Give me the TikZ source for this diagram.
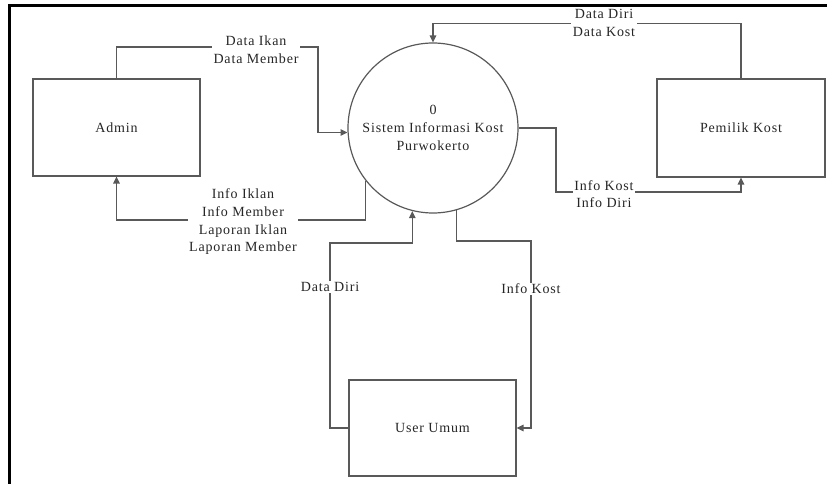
\documentclass[tikz,border=0pt]{standalone}
\usepackage{fontspec}
\setmainfont{Liberation Serif}[LetterSpace=6]
\usetikzlibrary{arrows.meta}
\begin{document}
\begin{tikzpicture}[x=1pt,y=-1pt,
  every node/.style={font=\fontsize{14}{17.7}\selectfont, text=black!85},
  entity/.style={draw=black!65, line width=1.2pt, rectangle, minimum width=167pt, minimum height=97pt, inner sep=0pt},
  process/.style={draw=black!65, line width=1.2pt, circle, minimum size=170pt, inner sep=0pt, align=center},
  flow/.style={draw=black!65, line width=1.3pt, -{Triangle[length=7pt,width=6.5pt]}},
  flowlabel/.style={fill=white, inner sep=1.5pt, align=center}]
  \useasboundingbox (0,0) rectangle (827,484);
  % frame
  \draw[line width=2.4pt, line cap=rect] (826,5.5) -- (9.5,5.5) -- (9.5,484);

  % entities and process
  \node[entity] (admin) at (116.5,127.5) {Admin};
  \node[entity, minimum width=168pt, minimum height=98pt] (pemilik) at (741,128) {Pemilik Kost};
  \node[entity, minimum height=96pt] (user) at (432.5,428) {User Umum};
  \node[process] (sys) at (433,128) {0\\Sistem Informasi Kost\\Purwokerto};

  % data flows
  \draw[flow] (admin.north) |- (318,47) |- (sys.183);
  \node[flowlabel] (l1) at (256,50) {Data Ikan\\Data Member};

  \draw[flow] (sys.218) -- (sys.218 |- 0,220) -| (admin.south);
  \node[flowlabel] (l2) at (243,222) {Info Iklan\\Info Member\\Laporan Iklan\\Laporan Member};

  \draw[flow] (pemilik.north) -- ++(0,-55) -| (sys.north);
  \node[flowlabel] (l3) at (604,23) {Data Diri\\Data Kost};

  \draw[flow] (sys.east) -| (556,192) -| (pemilik.south);
  \node[flowlabel] (l4) at (604,194) {Info Kost\\Info Diri};

  \draw[flow] (user.west) -| (330,243) -| (sys.256);
  \node[flowlabel] (l5) at (330,287) {Data Diri};

  \draw[flow] (sys.286) |- (531,241) |- (user.east);
  \node[flowlabel] (l6) at (531,289) {Info Kost};
\end{tikzpicture}
\end{document}
